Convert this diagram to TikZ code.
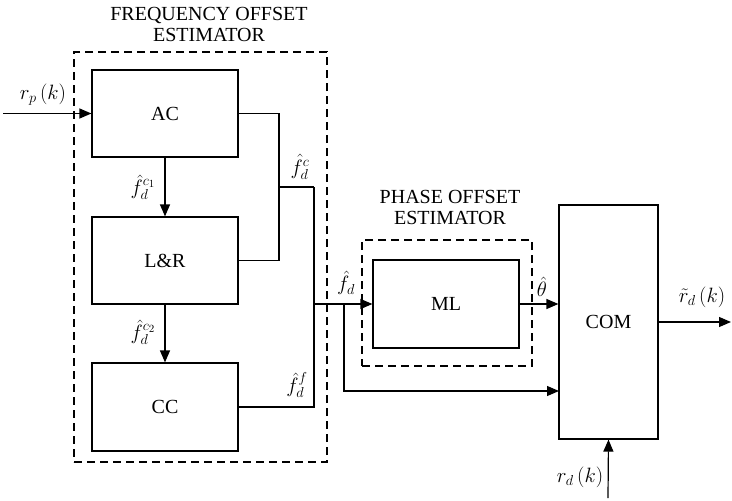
\documentclass[tikz,border=0pt]{standalone}
\usepackage{fontspec}
\setmainfont{Liberation Serif}
\usetikzlibrary{arrows.meta}
\begin{document}
\begin{tikzpicture}[x=1pt,y=-1pt,
  font=\fontsize{20}{22}\selectfont,
  line width=1.2pt,
  blk/.style={draw, rectangle, inner sep=0pt},
  dbox/.style={draw, rectangle, dashed, dash pattern=on 8pt off 5pt, inner sep=0pt},
  arr/.style={-{Triangle[length=12pt,width=10pt]}},
  lbl/.style={inner sep=0pt, font=\fontsize{22}{24}\selectfont}]
\useasboundingbox (0,0) rectangle (732,501);
% frequency offset estimator
\node[dbox, minimum width=253pt, minimum height=410pt] (fo) at (200.5,257) {};
\node[inner sep=0pt, align=center] (fotitle) at (209,24) {FREQUENCY OFFSET\\[-1pt]ESTIMATOR};
\node[blk, minimum width=146pt, minimum height=87pt] (ac) at (165,113.5) {AC};
\node[blk, minimum width=146pt, minimum height=87pt] (lr) at (165,260.5) {L\&R};
\node[blk, minimum width=146pt, minimum height=88pt] (cc) at (165,407) {CC};
% phase offset estimator
\node[dbox, minimum width=170pt, minimum height=126pt] (po) at (447,303) {};
\node[inner sep=0pt, align=center] (potitle) at (450,207) {PHASE OFFSET\\[-1pt]ESTIMATOR};
\node[blk, minimum width=146pt, minimum height=88pt] (ml) at (446,304) {ML};
% combiner
\node[blk, minimum width=99pt, minimum height=234pt] (com) at (608.5,322) {COM};
% coordinates
\coordinate (in) at (3,113.5);
\coordinate (m1) at (279,187);
\coordinate (m2) at (314,187);
\coordinate (m3) at (314,304);
\coordinate (b) at (344,304);
\coordinate (b2) at (344,391);
\coordinate (c2) at (559,391);
\coordinate (out) at (731,322);
\coordinate (rdin) at (608,498);
% connectors
\draw[arr] (in) -- (ac.west);
\draw[arr] (ac.south) -- (lr.north);
\draw[arr] (lr.south) -- (cc.north);
\draw (ac.east) -| (m1) |- (lr.east);
\draw (m1) -- (m2);
\draw (m2) |- (cc.east);
\draw[arr] (m3) -- (ml.west);
\draw[arr] (b) -- (b2) -- (c2);
\draw[arr] (ml.east) -- (ml.east -| com.west);
\draw[arr] (com.east) -- (out);
\draw[arr] (rdin) -- (com.south);
% labels
\node[lbl] (lrp) at (43,95) {$r_p\,\bigl(k\bigr)$};
\node[lbl] (lc1) at (143,187) {$\hat{f}_d^{c_1}$};
\node[lbl] (lc2) at (143,332) {$\hat{f}_d^{c_2}$};
\node[lbl] (lc) at (300,167) {$\hat{f}_d^{c}$};
\node[lbl] (lf) at (297,385) {$\hat{f}_d^{f}$};
\node[lbl] (lfd) at (346,283) {$\hat{f}_d$};
\node[lbl] (lth) at (542,287) {$\hat{\theta}$};
\node[lbl] (lout) at (702,297) {$\tilde{r}_d\,\bigl(k\bigr)$};
\node[lbl] (lrd) at (580,477) {$r_d\,\bigl(k\bigr)$};
\end{tikzpicture}
\end{document}
